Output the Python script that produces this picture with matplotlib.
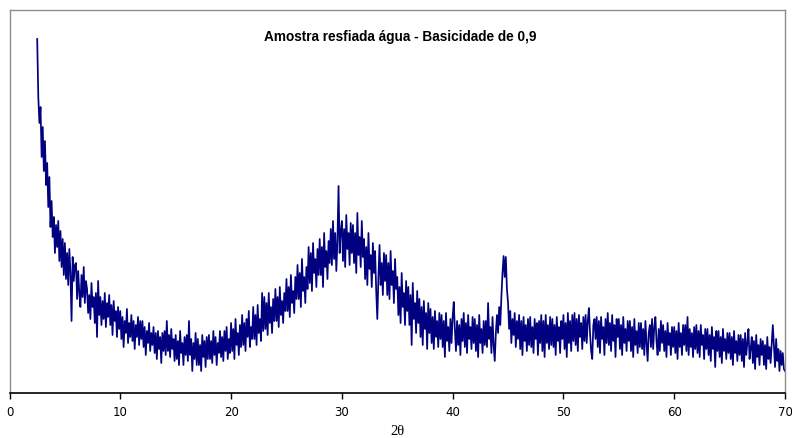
import numpy as np
import matplotlib
matplotlib.use("Agg")
import matplotlib.pyplot as plt

# Diffractogram: intensity (arbitrary units) sampled every 0.1 degree 2-theta from 2.5 to 70.0
theta_start = 2.5
theta_step = 0.1

intensity = [
    354, 296, 270, 286, 236,
    266, 222, 252, 208, 230, 186, 216, 166, 192, 156,   # 3
    176, 140, 168, 146, 172, 132, 162, 126, 154, 118,   # 4
    150, 114, 140, 108, 144, 120, 72, 136, 112, 128,    # 5
    130, 94, 122, 100, 86, 118, 96, 126, 90, 112,       # 6
    104, 80, 98, 74, 110, 86, 96, 70, 100, 56,          # 7
    112, 78, 96, 68, 92, 74, 100, 66, 90, 76,           # 8
    98, 68, 88, 58, 92, 72, 82, 56, 86, 64,             # 9
    82, 54, 76, 46, 72, 60, 84, 50, 70, 56,             # 10
    78, 52, 72, 44, 68, 56, 76, 48, 72, 54,             # 11
    72, 46, 66, 38, 62, 50, 70, 42, 60, 48,             # 12
    66, 40, 60, 34, 62, 44, 56, 30, 60, 42,             # 13
    62, 38, 72, 42, 58, 36, 64, 44, 54, 32,             # 14
    58, 34, 52, 28, 62, 40, 50, 28, 56, 38,             # 15
    58, 32, 72, 38, 54, 22, 50, 34, 60, 28,             # 16
    54, 28, 48, 22, 58, 36, 52, 26, 56, 34,             # 17
    58, 34, 52, 30, 62, 38, 56, 28, 50, 40,             # 18
    62, 36, 56, 32, 62, 42, 66, 34, 54, 40,             # 19
    70, 42, 64, 34, 74, 48, 60, 38, 68, 46,             # 20
    78, 48, 70, 42, 74, 56, 82, 46, 66, 54,             # 21
    86, 54, 78, 48, 88, 60, 74, 52, 100, 62,            # 22
    96, 64, 90, 58, 100, 70, 86, 60, 94, 72,            # 23
    104, 72, 96, 66, 106, 78, 92, 70, 100, 82,          # 24
    114, 82, 106, 76, 118, 90, 102, 80, 116, 94,        # 25
    128, 94, 120, 86, 134, 102, 116, 90, 126, 104,      # 26
    146, 110, 140, 102, 150, 120, 134, 106, 144, 118,   # 27
    154, 118, 146, 106, 160, 126, 142, 114, 152, 130,   # 28
    164, 128, 172, 134, 160, 122, 152, 207, 140, 162,   # 29
    172, 132, 164, 126, 178, 144, 160, 128, 170, 140,   # 30
    168, 130, 160, 120, 180, 138, 156, 126, 172, 136,   # 31
    154, 114, 146, 108, 160, 124, 138, 106, 150, 120,   # 32
    142, 102, 74, 116, 148, 108, 130, 98, 140, 112,     # 33
    138, 98, 130, 94, 142, 108, 122, 90, 134, 104,      # 34
    116, 78, 106, 70, 120, 86, 100, 68, 112, 82,        # 35
    106, 68, 98, 48, 110, 74, 90, 60, 102, 70,          # 36
    94, 56, 86, 48, 92, 64, 80, 44, 90, 60,             # 37
    84, 50, 76, 44, 82, 56, 72, 46, 80, 54,             # 38
    78, 46, 72, 36, 80, 52, 66, 42, 74, 50,             # 39
    76, 91, 64, 42, 72, 48, 68, 38, 74, 52,             # 40
    80, 46, 70, 40, 78, 54, 66, 44, 76, 50,             # 41
    74, 42, 68, 36, 78, 50, 64, 40, 72, 48,             # 42
    72, 46, 90, 54, 66, 40, 76, 48, 32, 60,             # 43
    78, 60, 86, 68, 96, 120, 137, 116, 136, 104,        # 44
    90, 64, 82, 50, 74, 58, 80, 46, 72, 54,             # 45
    78, 44, 72, 38, 76, 52, 68, 42, 74, 48,             # 46
    76, 46, 66, 40, 74, 54, 70, 38, 72, 50,             # 47
    78, 42, 72, 36, 78, 50, 68, 44, 76, 48,             # 48
    74, 46, 68, 38, 76, 52, 66, 40, 72, 54,             # 49
    78, 44, 70, 36, 80, 50, 72, 42, 78, 52,             # 50
    80, 48, 74, 42, 78, 56, 70, 44, 76, 52,             # 51
    78, 50, 72, 85, 60, 42, 34, 68, 74, 54,             # 52
    76, 46, 72, 40, 76, 54, 66, 38, 74, 50,             # 53
    80, 48, 70, 42, 78, 52, 68, 36, 74, 56,             # 54
    74, 44, 68, 38, 76, 50, 64, 42, 72, 52,             # 55
    72, 42, 66, 36, 74, 48, 62, 40, 70, 46,             # 56
    70, 44, 64, 38, 72, 50, 32, 60, 68, 46,             # 57
    74, 44, 66, 76, 52, 38, 64, 42, 72, 50,             # 58
    68, 42, 62, 36, 70, 48, 60, 38, 66, 46,             # 59
    66, 40, 62, 34, 70, 46, 60, 38, 68, 48,             # 60
    68, 42, 76, 38, 64, 46, 60, 36, 66, 44,             # 61
    68, 40, 62, 36, 68, 48, 58, 34, 64, 44,             # 62
    64, 38, 58, 32, 66, 44, 56, 26, 62, 42,             # 63
    62, 36, 56, 30, 64, 42, 54, 34, 60, 40,             # 64
    60, 34, 56, 28, 62, 40, 52, 32, 58, 38,             # 65
    58, 32, 54, 26, 60, 38, 50, 64, 34, 44,             # 66
    56, 30, 52, 24, 58, 36, 48, 28, 54, 38,             # 67
    52, 28, 48, 24, 56, 34, 46, 30, 50, 68,             # 68
    48, 26, 54, 32, 44, 22, 42, 28, 40, 24,             # 69
    22,                                                 # 70
]

x_ticks = [0, 10, 20, 30, 40, 50, 60, 70]
title_text = "Amostra resfiada água - Basicidade de 0,9"
x_label = "2θ"

two_theta = theta_start + theta_step * np.arange(len(intensity))

fig = plt.figure(figsize=(7.92, 4.39), dpi=100)
ax = fig.add_axes([9.5 / 792, 45 / 439, 775.5 / 792, 383 / 439])

ax.plot(two_theta, intensity, color="#000080", linewidth=1.25)

ax.set_xlim(0, 70)
ax.set_ylim(0, 383)
ax.set_xticks(x_ticks)
ax.set_xticklabels([str(t) for t in x_ticks],
                   family=["Liberation Sans Narrow", "DejaVu Sans"], fontsize=8.5)
ax.set_yticks([])
ax.tick_params(axis="x", direction="out", length=4, width=1, color="black", pad=5)

for side in ("left", "top", "right"):
    ax.spines[side].set_color("#8c8c8c")
    ax.spines[side].set_linewidth(1.0)
ax.spines["bottom"].set_color("black")
ax.spines["bottom"].set_linewidth(1.2)

fig.text(400 / 792, 1 - 37 / 439, title_text, ha="center", va="center",
         fontsize=9.8, fontweight="bold", family=["Liberation Sans", "DejaVu Sans"])
fig.text(397 / 792, 1 - 432 / 439, x_label, ha="center", va="center",
         fontsize=10.5, family=["Liberation Serif", "DejaVu Serif"])

fig.savefig("out.png", dpi=100)
